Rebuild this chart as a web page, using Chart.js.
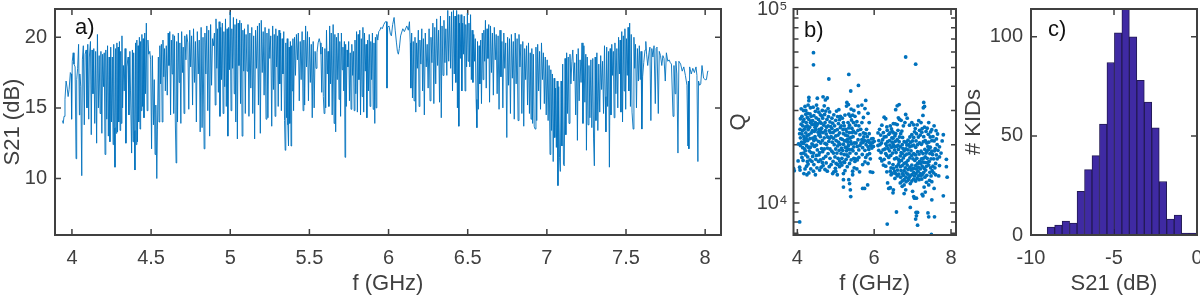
<!DOCTYPE html>
<html>
<head>
<meta charset="utf-8">
<style>
  html, body { margin: 0; background: #fff; overflow: hidden; }
  canvas { position: absolute; top: 0; }
</style>
<script src="https://cdn.jsdelivr.net/npm/chart.js@4/dist/chart.umd.min.js"></script>
</head>
<body>
<canvas id="panel_a" width="730" height="297" style="left:0"></canvas>
<canvas id="panel_b" width="240" height="297" style="left:720px"></canvas>
<canvas id="panel_c" width="240" height="297" style="left:960px"></canvas>
<script>
// panel a, S21 trace, [f GHz, dB], one list per band
const s21_40 = [[3.94,14.1],[3.945,13.9],[3.95,14.4],[3.956,15.6],[3.963,16.9],[3.97,16.4],[3.976,15.8],[3.982,16.3],[3.99,17.5],[3.995,17.4],[3.998,14.2],[4.002,18.3],[4.008,18.9],[4.013,18.1],[4.02,17.9],[4.026,11.4],[4.03,17.0],[4.036,17.8],[4.042,19.5],[4.047,14.5],[4.05,17.4],[4.056,16.5],[4.062,10.2],[4.066,18.4],[4.072,19.4],[4.078,13.8],[4.083,18.8],[4.09,19.1],[4.095,15.0],[4.1,19.5],[4.106,14.2],[4.11,18.6],[4.117,19.7],[4.122,13.1],[4.127,19.1],[4.133,16.0],[4.138,19.2],[4.144,13.9],[4.15,19.0],[4.156,12.5],[4.161,20.2],[4.167,15.0],[4.172,18.7],[4.178,14.6],[4.183,19.0],[4.189,13.2],[4.194,18.8],[4.2,16.5],[4.204,18.9],[4.209,11.7],[4.214,19.1],[4.22,14.2],[4.225,19.4],[4.23,13.0],[4.235,18.6],[4.24,12.6],[4.245,19.3],[4.25,14.0],[4.255,18.6],[4.26,12.4],[4.264,19.5],[4.268,13.6],[4.272,10.8],[4.276,19.2],[4.28,13.2],[4.284,19.6],[4.288,13.3],[4.292,19.3],[4.296,14.0],[4.3,19.7],[4.304,13.4],[4.308,19.0],[4.312,13.9],[4.316,20.1],[4.32,15.0],[4.325,18.0],[4.33,16.2],[4.336,19.2],[4.341,12.5],[4.347,17.9],[4.355,18.6],[4.36,14.5],[4.366,19.0],[4.37,16.2],[4.377,11.8],[4.382,19.1],[4.386,12.6],[4.39,18.9],[4.394,13.4],[4.398,10.6],[4.402,19.6],[4.406,12.4],[4.41,19.8],[4.414,12.6],[4.418,19.4],[4.422,14.0],[4.426,20.0],[4.43,13.5],[4.434,19.7],[4.438,14.8],[4.442,20.2],[4.446,15.1],[4.45,19.9],[4.455,14.3],[4.46,20.3],[4.465,16.0],[4.47,21.0],[4.475,14.8],[4.48,19.8],[4.485,18.8],[4.492,19.0]];
const s21_45 = [[4.497,18.4],[4.503,12.1],[4.508,18.7],[4.515,13.8],[4.52,17.0],[4.525,11.7],[4.53,15.2],[4.536,10.0],[4.54,13.5],[4.546,18.6],[4.55,14.0],[4.555,19.4],[4.56,16.7],[4.565,19.5],[4.57,14.0],[4.575,19.8],[4.58,17.2],[4.585,19.2],[4.59,16.2],[4.596,19.4],[4.602,15.9],[4.608,20.3],[4.613,18.0],[4.618,20.4],[4.623,14.5],[4.628,19.8],[4.633,17.4],[4.638,20.2],[4.643,14.6],[4.648,20.1],[4.653,14.0],[4.658,11.1],[4.662,19.7],[4.667,14.0],[4.672,20.3],[4.677,16.8],[4.682,19.6],[4.688,13.9],[4.693,20.4],[4.698,17.5],[4.703,19.3],[4.708,14.6],[4.713,20.1],[4.72,18.4],[4.725,20.2],[4.732,19.6],[4.738,14.9],[4.744,20.5],[4.75,17.9],[4.756,20.1],[4.762,15.2],[4.768,20.6],[4.774,16.8],[4.78,19.7],[4.786,14.0],[4.792,20.4],[4.798,17.4],[4.804,19.8],[4.81,13.3],[4.816,20.7],[4.822,13.6],[4.828,20.0],[4.835,12.1],[4.84,20.3],[4.846,17.4],[4.852,20.8],[4.858,14.8],[4.864,20.5],[4.87,13.0],[4.876,20.9],[4.882,16.6],[4.888,19.9],[4.894,19.4],[4.9,20.3],[4.905,15.2],[4.91,21.3],[4.915,17.8],[4.92,20.6],[4.925,16.1],[4.93,21.1],[4.935,14.4],[4.94,20.7],[4.945,17.0],[4.95,21.0],[4.955,14.6],[4.96,20.4],[4.965,16.5],[4.97,21.3],[4.975,15.1],[4.98,20.6],[4.985,13.0],[4.99,20.7],[4.995,17.7],[5.0,21.8],[5.005,14.8]];
const s21_50 = [[5.01,20.6],[5.015,17.8],[5.02,21.4],[5.025,16.0],[5.03,20.9],[5.035,14.0],[5.04,21.3],[5.045,12.8],[5.05,21.0],[5.055,18.0],[5.06,21.2],[5.065,15.3],[5.07,21.0],[5.075,13.0],[5.08,20.5],[5.085,17.6],[5.09,20.6],[5.095,14.6],[5.1,20.2],[5.106,17.6],[5.112,20.9],[5.118,14.4],[5.124,20.3],[5.13,16.4],[5.136,20.7],[5.142,14.6],[5.148,20.1],[5.154,12.8],[5.16,20.5],[5.166,17.8],[5.172,20.8],[5.178,15.2],[5.184,21.0],[5.19,13.2],[5.196,21.2],[5.202,17.5],[5.208,20.4],[5.214,15.9],[5.22,20.7],[5.226,14.2],[5.232,20.3],[5.238,14.3],[5.244,20.6],[5.25,18.5],[5.256,20.1],[5.262,13.7],[5.268,20.8],[5.273,16.3],[5.278,20.2],[5.283,14.4],[5.288,20.6],[5.293,17.9],[5.298,20.1],[5.303,15.1],[5.308,20.5],[5.313,16.7],[5.318,20.3],[5.323,14.8],[5.328,19.9],[5.333,17.4],[5.338,20.4],[5.343,14.1],[5.347,12.0],[5.351,19.6],[5.356,14.3],[5.36,19.9],[5.364,13.8],[5.368,12.3],[5.372,19.3],[5.376,13.9],[5.38,19.7],[5.384,12.3],[5.388,19.4],[5.392,16.2],[5.396,19.9],[5.4,14.8],[5.406,20.0],[5.412,17.3],[5.418,20.2],[5.424,18.4],[5.43,20.3],[5.436,15.5],[5.442,19.7],[5.448,17.0],[5.454,20.4],[5.46,14.8],[5.465,19.8],[5.47,15.2],[5.476,20.8],[5.482,17.9],[5.488,20.4],[5.494,15.5],[5.5,20.0],[5.506,16.8]];
const s21_55 = [[5.512,19.5],[5.518,14.3],[5.524,19.7],[5.53,15.0],[5.536,19.0],[5.542,17.8],[5.548,18.9],[5.555,19.6],[5.562,19.9],[5.568,19.6],[5.573,18.8],[5.578,16.1],[5.583,19.3],[5.588,15.8],[5.593,14.6],[5.598,19.2],[5.603,15.0],[5.608,20.5],[5.613,17.4],[5.618,19.0],[5.623,15.1],[5.628,20.8],[5.633,16.7],[5.638,20.3],[5.644,14.5],[5.65,20.9],[5.656,13.9],[5.661,20.2],[5.666,13.3],[5.671,20.0],[5.676,17.0],[5.682,20.3],[5.687,15.6],[5.692,19.7],[5.697,14.4],[5.702,20.3],[5.707,17.7],[5.712,19.3],[5.717,16.2],[5.721,19.7],[5.725,11.5],[5.729,19.5],[5.733,15.1],[5.738,19.1],[5.743,17.9],[5.748,19.7],[5.753,15.5],[5.758,18.9],[5.763,14.9],[5.768,19.5],[5.773,17.3],[5.778,19.0],[5.783,14.8],[5.788,19.8],[5.793,16.0],[5.798,20.4],[5.803,14.7],[5.808,20.2],[5.813,17.0],[5.818,20.5],[5.823,14.5],[5.828,19.9],[5.833,15.8],[5.838,20.7],[5.843,14.7],[5.848,20.3],[5.853,17.6],[5.858,19.5],[5.863,14.3],[5.868,19.8],[5.873,16.2],[5.878,20.2],[5.883,15.1],[5.888,19.7],[5.893,17.0],[5.898,20.3],[5.903,14.9],[5.908,19.6],[5.913,13.9],[5.917,20.0],[5.921,15.0],[5.926,20.2],[5.932,19.8],[5.938,20.4],[5.945,20.5],[5.952,20.7],[5.96,20.6],[5.97,20.9],[5.98,21.1],[5.987,21.1],[5.99,16.4],[5.994,20.7],[6.003,20.8],[6.012,20.2],[6.018,20.1],[6.026,20.9],[6.035,21.4],[6.042,20.5],[6.05,19.6],[6.056,19.0],[6.062,18.8],[6.068,19.2],[6.076,20.1],[6.09,20.6],[6.1,20.4],[6.115,20.8],[6.125,20.5],[6.132,21.1]];
const s21_60 = [[6.137,19.6],[6.141,16.4],[6.146,20.3],[6.151,15.7],[6.156,19.7],[6.161,15.5],[6.167,20.0],[6.172,14.7],[6.177,19.6],[6.182,17.8],[6.188,20.5],[6.193,15.1],[6.198,19.8],[6.204,18.1],[6.21,20.6],[6.215,16.2],[6.22,19.9],[6.226,14.5],[6.232,20.3],[6.238,17.9],[6.244,19.5],[6.25,16.4],[6.256,20.6],[6.262,15.5],[6.268,20.0],[6.274,18.2],[6.28,21.0],[6.286,15.3],[6.292,20.7],[6.298,16.7],[6.304,21.3],[6.31,18.0],[6.316,20.5],[6.322,15.4],[6.328,21.5],[6.333,14.3],[6.338,20.8],[6.344,17.3],[6.35,21.2],[6.356,18.2],[6.362,20.6],[6.368,17.3],[6.374,21.9],[6.38,18.3],[6.386,21.5],[6.392,17.8],[6.398,21.8],[6.404,16.2],[6.41,21.9],[6.415,17.4],[6.42,21.5],[6.425,16.8],[6.43,21.9],[6.435,15.0],[6.44,21.6],[6.444,13.7],[6.448,21.0],[6.453,18.5],[6.458,21.6],[6.463,16.2],[6.468,21.0],[6.473,18.8],[6.478,21.5],[6.483,16.2],[6.488,20.9],[6.493,17.9],[6.498,21.7],[6.503,18.3],[6.508,21.0],[6.513,17.9],[6.518,21.6],[6.523,17.0],[6.528,20.5],[6.533,16.8],[6.538,20.2],[6.543,18.3],[6.548,19.9],[6.553,15.6],[6.558,13.6],[6.562,19.7],[6.567,14.9],[6.572,19.4],[6.577,16.7],[6.582,19.8],[6.587,15.3],[6.592,20.3],[6.597,17.0],[6.602,20.5],[6.607,18.3],[6.612,21.2],[6.617,16.4],[6.622,20.6],[6.628,18.5],[6.633,20.9],[6.638,15.4]];
const s21_65 = [[6.644,20.8],[6.65,17.5],[6.656,20.3],[6.662,15.9],[6.668,20.7],[6.674,18.4],[6.68,20.2],[6.686,16.0],[6.692,20.1],[6.698,14.9],[6.704,20.5],[6.71,17.2],[6.716,19.7],[6.722,15.0],[6.728,20.3],[6.734,17.8],[6.74,19.6],[6.747,12.9],[6.752,20.0],[6.758,16.6],[6.764,19.9],[6.77,14.6],[6.776,20.2],[6.782,17.1],[6.788,19.7],[6.794,14.2],[6.8,20.3],[6.806,16.7],[6.812,19.9],[6.818,14.1],[6.824,20.2],[6.83,17.9],[6.836,19.5],[6.842,14.6],[6.848,19.7],[6.854,13.7],[6.86,19.2],[6.866,17.0],[6.872,19.4],[6.878,15.2],[6.884,19.6],[6.89,14.6],[6.895,18.9],[6.9,14.2],[6.905,19.2],[6.91,13.9],[6.915,18.8],[6.92,13.7],[6.926,13.5],[6.931,19.3],[6.936,14.1],[6.942,19.5],[6.948,16.2],[6.954,19.0],[6.96,14.9],[6.966,19.6],[6.972,17.0],[6.978,18.9],[6.984,15.3],[6.99,18.6],[6.996,14.5],[7.002,18.4],[7.008,14.1],[7.014,18.0],[7.02,11.7],[7.025,17.7],[7.03,13.4],[7.035,17.4],[7.04,11.2],[7.046,17.1],[7.05,12.9],[7.055,16.4],[7.06,12.2],[7.065,16.9],[7.07,9.5],[7.075,16.5],[7.08,11.5],[7.085,10.5],[7.09,16.9],[7.095,12.3],[7.1,18.1],[7.105,11.0],[7.11,10.9],[7.115,18.5],[7.12,13.1],[7.125,18.9],[7.13,14.6],[7.135,18.6],[7.14,13.9],[7.146,18.8],[7.152,16.7],[7.158,18.3]];
const s21_70 = [[7.164,19.1],[7.17,16.9],[7.176,18.2],[7.182,14.5],[7.188,18.8],[7.193,12.7],[7.198,19.2],[7.204,15.5],[7.21,18.4],[7.216,16.8],[7.222,19.6],[7.228,13.9],[7.234,19.4],[7.24,15.4],[7.246,18.8],[7.25,12.0],[7.255,18.6],[7.26,13.8],[7.266,18.0],[7.272,14.3],[7.278,18.4],[7.284,13.6],[7.29,18.5],[7.295,12.8],[7.3,10.9],[7.305,18.6],[7.31,14.1],[7.316,18.9],[7.322,13.4],[7.328,18.1],[7.334,14.7],[7.34,18.7],[7.346,16.3],[7.352,18.3],[7.358,14.6],[7.364,19.4],[7.369,15.8],[7.373,13.3],[7.378,19.3],[7.384,15.1],[7.39,19.0],[7.395,10.8],[7.4,19.2],[7.405,14.5],[7.41,19.5],[7.415,17.3],[7.42,19.0],[7.425,14.3],[7.43,19.6],[7.436,16.0],[7.442,19.2],[7.448,15.0],[7.453,20.0],[7.458,17.4],[7.463,19.8],[7.468,14.7],[7.473,20.4],[7.478,14.0],[7.483,20.1],[7.488,16.2],[7.493,20.6],[7.498,14.9],[7.503,19.9],[7.508,17.3],[7.513,20.7],[7.518,16.2],[7.523,21.0],[7.528,15.1],[7.533,20.2],[7.538,14.7],[7.545,13.5],[7.55,20.0],[7.555,17.8],[7.56,19.5],[7.566,15.0],[7.572,19.2],[7.578,16.9],[7.584,19.4],[7.59,17.0],[7.595,19.0],[7.6,13.5],[7.605,17.2],[7.612,18.2],[7.62,19.1],[7.625,19.7],[7.63,18.8],[7.637,18.0],[7.645,18.9],[7.651,19.3],[7.657,14.1],[7.663,19.2],[7.67,18.6],[7.677,19.4],[7.685,15.3],[7.69,19.2],[7.696,19.3],[7.704,14.6],[7.71,19.0],[7.718,18.7],[7.726,18.0],[7.733,18.7],[7.74,18.5],[7.748,16.9],[7.755,18.9],[7.764,18.3],[7.772,18.4],[7.78,18.2]];
const s21_78 = [[7.787,18.1],[7.797,14.4],[7.803,18.0],[7.81,16.0],[7.815,18.3],[7.821,17.4],[7.828,11.8],[7.834,18.3],[7.845,18.1],[7.855,17.6],[7.865,17.9],[7.875,17.3],[7.885,16.6],[7.891,12.3],[7.894,16.9],[7.897,12.1],[7.902,17.9],[7.912,17.4],[7.922,17.8],[7.932,17.5],[7.942,17.9],[7.948,17.3],[7.954,11.2],[7.958,16.9],[7.965,16.6],[7.972,16.7],[7.98,18.0],[7.99,17.1],[8.0,17.0],[8.008,17.0],[8.016,17.6],[8.02,17.6]];
const xTicksA = [4, 4.5, 5, 5.5, 6, 6.5, 7, 7.5, 8];
const yTicksA = [10, 15, 20];

// panel b, resonators, [f GHz, Q in thousands]
const qLowBand = [[4.42,59.6],[4.42,51.6],[4.82,43.6],[5.34,46],[5.39,37.8],[5.59,40.4],[4.06,8.0],[3.9,15.1],[3.92,14.7],[4.06,15.3],[4.07,14.8],[4.02,16.5],[4.03,20.2],[4.08,21.7],[4.06,22.8],[4.07,24],[4.1,25.5],[4.08,27.2],[4.12,28],[4.16,30],[4.1,30.6],[4.22,30],[4.2,31.5],[4.27,29],[4.3,35],[4.3,33.7],[4.28,32],[4.34,31],[4.36,28],[4.22,28.7],[4.17,27],[4.14,25],[4.18,24],[4.23,26],[4.26,25],[4.3,27],[4.32,24.6],[4.12,22.7],[4.17,22],[4.2,20.8],[4.11,20.6],[4.14,19.3],[4.19,19],[4.24,19.8],[4.27,21],[4.3,22.5],[4.33,21.5],[4.36,23],[4.38,25.4],[4.1,18],[4.12,17.2],[4.16,18.1],[4.22,17.7],[4.27,17.3],[4.31,18.6],[4.34,19.4],[4.38,20.2],[4.4,21.6],[4.44,23.4],[4.47,26],[4.43,28.2],[4.47,29.7],[4.41,31.2],[4.5,32],[4.52,34.7],[4.53,30.6],[4.6,28.5],[4.55,27],[4.5,25],[4.57,24],[4.62,25.8],[4.66,27.4],[4.65,30],[4.7,31.7],[4.67,35.3],[4.73,34],[4.78,34.8],[4.74,29.8],[4.8,30.7],[4.84,29.5],[4.77,27],[4.72,26],[4.8,25],[4.85,26.2],[4.9,27.4],[4.83,23.6],[4.75,22.7],[4.7,21.7],[4.65,21],[4.6,22],[4.55,20.8],[4.48,21.3],[4.45,19.6],[4.42,18.1],[4.52,18.8],[4.58,18.2],[4.63,19.1],[4.7,19],[4.76,20.1],[4.82,20.8],[4.88,22],[4.93,23.1],[4.97,25],[5.0,26.7],[4.95,28.5],[5.02,29.8],[5.08,30.3],[5.12,28],[5.07,25.7],[5.04,23.9],[5.1,23],[5.14,25],[5.2,26],[5.24,28.4],[5.28,31.6],[5.33,32.2],[5.29,33],[5.4,30.5],[5.38,28],[5.32,26],[5.26,24],[5.2,22.8],[5.13,21.5],[5.07,20.6],[5.01,21],[4.96,20],[4.9,18.5],[4.85,19],[4.8,18],[4.74,17.4],[4.68,17],[4.6,16.7],[4.55,16.4],[4.48,16.8],[4.43,15.8],[4.38,16.4],[4.33,16.7],[4.28,15.9],[4.24,15.5],[4.2,15],[4.17,14.2],[4.25,14],[4.3,14.3],[4.35,15],[4.42,14.6],[4.47,14],[4.51,15.2],[4.58,14.8],[4.62,15.3],[4.67,15.6],[4.72,14.9],[4.78,14.6],[4.83,15.4],[4.88,15.8],[4.93,16.4],[4.98,17.3],[5.03,18.1],[5.09,18.7],[5.15,19.2],[5.2,20.1],[5.26,21],[5.31,22.2],[5.36,23.1],[5.42,24.3],[5.46,26],[5.5,28],[5.47,30],[5.58,31.6],[5.6,29.2],[5.55,26.3],[5.6,25],[5.52,23],[5.45,22],[5.39,20.7],[5.33,19.8],[5.28,18.6],[5.22,17.8],[5.16,17],[5.1,16.5],[5.05,15.8],[4.99,15.1],[4.95,14.5],[4.92,14.2],[5.0,14.6],[5.04,14],[5.1,15.4],[5.16,15.7],[5.21,16.3],[5.27,16.8],[5.32,17.4],[5.37,18.1],[5.42,18.9],[5.47,19.5],[5.53,20.4],[5.58,21.2],[5.63,22.5],[5.65,24],[5.68,26],[5.72,27.6],[5.76,30.7],[5.68,32],[5.78,33.8],[5.84,29],[5.87,26],[5.8,24],[5.72,23],[5.75,21],[5.79,20],[5.82,22],[5.85,21],[5.88,20.5],[5.9,19.7],[5.93,21.4],[5.96,20.5],[5.98,19.6],[6.0,20.8],[5.88,18],[5.82,17.7],[5.76,18.7],[5.7,19.3],[5.66,20.4],[5.6,18.8],[5.53,18],[5.47,17],[5.4,16.7],[5.36,16],[5.3,15.4],[5.24,14.7],[5.2,14.2],[5.2,13.2],[5.2,12.1],[5.34,13.2],[5.36,12.6],[5.38,11.7],[5.39,10.8],[5.7,11.9],[5.75,11.9],[5.83,12.4],[5.9,14.5],[5.96,14.4],[5.62,14.5],[5.55,15],[5.48,15.2],[5.44,14.6],[5.44,14],[5.7,15.8],[5.76,16.3],[5.84,16],[5.9,16.9],[5.56,16.7],[5.5,16.4],[5.14,18],[5.18,18.7],[5.25,19.4],[5.32,20.6],[5.4,21.8],[5.46,23.5],[5.36,25.2],[5.25,22.4],[5.19,23.9],[5.12,24.5],[5.06,22.4],[5.0,22.2],[4.94,21.6],[4.9,24.2],[4.86,23.1],[4.79,21.9],[4.73,23.6],[4.67,23.1],[4.63,24.3],[4.59,22.8],[4.54,23.2],[4.48,23.9],[4.44,25.4],[4.4,26.6],[4.34,26],[4.28,23.9],[4.22,23],[4.18,21.3],[4.13,23.6],[4.25,22.2],[4.08,19.8],[4.16,20.3]];
const qHighBand = [[6.82,56.6],[7.08,52],[6.58,9.0],[6.34,7.8],[6.94,9.5],[7.13,8.95],[7.09,8.95],[7.08,8.27],[7.13,7.7],[7.1,8.6],[7.4,8.9],[7.42,8.5],[7.57,8.5],[7.49,6.9],[7.5,10.4],[7.8,10.9],[7.9,13.6],[7.88,16.8],[7.88,15.4],[7.8,22.5],[7.77,20.9],[6.12,21],[6.1,23],[6.14,24],[6.2,25.2],[6.26,27.7],[6.3,27.2],[6.34,23.7],[6.38,22.6],[6.42,25],[6.45,24.1],[6.5,25.7],[6.55,25.6],[6.6,31.7],[6.56,30.3],[6.65,32.2],[6.66,27],[6.62,23.7],[6.56,22.8],[6.51,23],[6.46,21.7],[6.4,21],[6.35,20.7],[6.3,20.2],[6.26,21.9],[6.22,21.2],[6.19,20.4],[6.15,20],[6.1,19.8],[6.12,18.7],[6.18,18.2],[6.23,18.8],[6.3,18],[6.36,19.1],[6.4,18.6],[6.45,19.4],[6.5,20],[6.55,20.8],[6.6,21.2],[6.66,21.9],[6.72,23.5],[6.76,25],[6.8,26],[6.86,27.4],[6.82,28.6],[6.92,25.2],[6.98,26],[7.03,25.3],[7.07,24.2],[7.12,25.3],[7.16,26.6],[7.22,26],[7.27,28.3],[7.31,31.5],[7.28,31],[7.29,33],[7.42,26],[7.5,23.9],[7.56,25],[7.61,23.6],[7.65,22.7],[7.62,21.4],[7.56,20.9],[7.5,21],[7.46,21.9],[7.41,22.6],[7.35,23.4],[7.29,22],[7.24,23.2],[7.2,22.4],[7.15,21.9],[7.09,20.9],[7.03,21.8],[6.98,22.5],[6.93,21.9],[6.88,21.1],[6.83,20.6],[6.78,20.7],[6.73,20],[6.68,19.5],[6.63,18.9],[6.58,19.6],[6.53,18.8],[6.48,18.1],[6.43,17.6],[6.38,17.2],[6.33,17.6],[6.26,16.8],[6.2,16.5],[6.16,17],[6.24,15.7],[6.3,15.5],[6.33,14.5],[6.39,16.1],[6.44,15.2],[6.49,15.8],[6.53,16.9],[6.58,17.1],[6.63,16.8],[6.68,17.5],[6.73,18],[6.78,18.6],[6.83,19],[6.88,18.8],[6.93,19.5],[6.98,19.7],[7.03,19.9],[7.08,19.4],[7.13,20],[7.18,20.4],[7.23,20.1],[7.28,20.7],[7.33,21],[7.37,20.4],[7.42,20.6],[7.46,19.4],[7.42,18.9],[7.37,18.5],[7.32,18.9],[7.27,18],[7.22,18.5],[7.17,17.9],[7.13,18.4],[7.08,17.7],[7.03,18],[6.98,17.6],[6.93,17.1],[6.88,16.6],[6.83,16.2],[6.78,16],[6.73,15.6],[6.68,15.4],[6.63,15.8],[6.58,15.4],[6.53,14.6],[6.47,14.2],[6.44,14],[6.54,13.4],[6.6,13.8],[6.64,14.1],[6.69,13.6],[6.74,14.2],[6.78,14.7],[6.83,14.3],[6.88,14.9],[6.93,15.3],[6.98,15.7],[7.03,15.1],[7.08,15.6],[7.13,16],[7.18,16.4],[7.23,16.9],[7.28,17],[7.33,17.3],[7.38,17],[7.43,16.4],[7.48,16.9],[7.52,17.8],[7.57,18.6],[7.62,17.7],[7.66,18.7],[7.7,19.5],[7.74,18.1],[7.6,16],[7.53,15.5],[7.47,15.2],[7.42,15.7],[7.36,15.5],[7.3,15.1],[7.25,15.5],[7.2,15],[7.14,14.6],[7.09,14.2],[7.03,14.4],[6.98,14],[6.93,13.7],[6.88,14.1],[6.83,13.6],[6.78,13.2],[6.73,13],[6.68,12.7],[6.73,12.2],[6.78,12.4],[6.83,12.9],[6.88,13.1],[6.94,12.6],[6.98,13],[7.03,13.3],[7.08,13],[7.12,13.4],[7.17,13.2],[7.22,13.8],[7.26,14.1],[7.32,13.6],[7.37,13.9],[7.44,13.1],[7.48,13.8],[7.55,14.3],[7.6,14],[7.68,13.8],[7.7,15.6],[6.35,12.7],[6.38,11.9],[6.49,11.3],[6.5,11.7],[6.42,12],[6.82,11.7],[6.78,11.2],[7.05,10.6],[7.1,10.6],[7.03,10.8],[7.0,11.5],[7.25,11.1],[7.3,12.1],[7.27,10.9],[7.42,12.4],[7.36,12.8],[7.5,12.9],[7.56,11.9],[7.33,11.4]];
// the dense middle of both clouds
const qDenseLow = [[4.15,26.3],[4.21,24.7],[4.26,27.6],[4.29,24.2],[4.33,28.8],[4.37,26.4],[4.39,23.6],[4.43,21],[4.46,24.6],[4.49,27.5],[4.53,25.6],[4.56,29.4],[4.59,26.2],[4.61,23.4],[4.64,28.1],[4.69,25.2],[4.71,28.6],[4.76,24.6],[4.81,27.9],[4.87,24.8],[4.91,20.6],[4.84,21.6],[4.78,19.2],[4.72,20.3],[4.66,18.4],[4.61,20.4],[4.56,22.4],[4.5,19.9],[4.46,22],[4.41,19.9],[4.36,18.2],[4.29,19.4],[4.23,21.5],[4.21,18.6],[4.15,16.6],[4.26,16.4],[4.4,17.4],[4.5,17.6],[4.56,17.7],[4.65,16.2],[4.75,16.1],[4.85,17],[4.94,18.1],[5.0,19],[5.05,19.7],[5.11,20.1],[5.17,21.3],[5.23,20.9],[5.29,23.3],[5.34,24.4],[5.41,26.8],[5.43,23.1],[5.37,21.6],[5.3,21.2],[5.22,25],[5.17,27.4],[5.1,26.9],[5.05,27.9],[4.98,23.6],[4.92,25.8],[5.34,28.7],[5.44,28.4],[5.52,25.2],[5.58,23.7],[5.63,19.8],[5.68,21.2],[5.71,20.5],[5.73,21.9],[5.77,22.8],[5.81,20.8],[5.84,19.5],[5.87,22.8],[5.92,20.3],[5.94,19.2],[5.97,21.5],[5.86,18.9],[5.78,17.2],[5.69,17.8],[5.6,17.2],[5.52,16.9],[5.45,18.6],[5.41,20.2],[5.35,18.9],[5.29,17.7],[5.23,16.2],[5.13,16.1],[5.06,17],[5.01,16],[5.3,19.1],[5.48,20.4],[5.56,19.6]];
const qDenseHigh = [[6.17,22.4],[6.24,23.1],[6.31,22],[6.33,24.7],[6.41,23],[6.47,23.4],[6.49,21.6],[6.54,22.2],[6.6,25.4],[6.63,27.5],[6.7,26.7],[6.74,21.8],[6.69,22.8],[6.28,19],[6.33,19.7],[6.41,19.9],[6.47,20.6],[6.52,19.6],[6.57,18.2],[6.62,19.8],[6.65,20.7],[6.7,18.2],[6.75,19.1],[6.8,17.6],[6.85,17.9],[6.91,18],[6.96,18.6],[7.01,16.9],[7.06,16.6],[7.11,17],[7.15,15.3],[7.21,16],[7.26,16.3],[7.31,16.2],[7.35,18.1],[7.4,19.6],[7.45,18],[7.5,18.5],[7.55,16.9],[7.59,19.1],[7.64,20],[7.53,22],[7.47,23.3],[7.38,24.3],[7.31,24.6],[7.25,24.2],[7.18,23.7],[7.1,22.8],[7.05,23.3],[7.0,20.9],[6.95,20.6],[6.9,20],[6.85,19.9],[6.8,18.9],[6.76,17.1],[6.71,16.6],[6.65,16.3],[6.61,14.8],[6.56,14.2],[6.5,15.1],[6.42,14.6],[6.7,14.7],[6.76,13.9],[6.81,15.2],[6.86,15.7],[6.9,13.4],[6.96,14.8],[7.0,15],[7.05,13.8],[7.1,15],[7.15,13.8],[7.2,14.2],[7.24,13.3],[7.29,14.4],[7.34,14.8],[7.39,16.2],[7.45,14.4],[7.51,14.7],[7.58,15.2],[7.64,16.9],[7.7,17.3]];
const xTicksB = [4, 6, 8];
const yMajorB = [10000, 100000];
const yMinorB = [7000, 8000, 9000, 20000, 30000, 40000, 50000, 60000, 70000, 80000, 90000];

// panel c, histogram
const binCenters = [-8.8, -8.35, -7.9, -7.45, -7.0, -6.55, -6.1, -5.65, -5.2, -4.75, -4.3, -3.85, -3.4, -2.95, -2.5, -2.05, -1.6, -1.15, -0.7, -0.25];
const binCounts = [4, 5, 7, 6, 22, 33, 40, 56, 87, 102, 118, 100, 78, 67, 54, 27, 8, 10, 1, 1];
const xTicksC = [-10, -5, 0];
const yTicksC = [0, 50, 100];

const INK = "#404040";
const BLUE = "#0072BD";
const FONT = "'Liberation Sans', Arial, sans-serif";

// MATLAB look: inward ticks on all four sides, box on top of the marks
const boxTicks = {
  id: "boxTicks",
  beforeDatasetsDraw(chart, args, opts) {
    const a = chart.chartArea, ctx = chart.ctx;
    ctx.save();
    ctx.strokeStyle = INK;
    ctx.lineWidth = 1.5;
    ctx.beginPath();
    chart.scales.x.ticks.forEach((t) => {
      const p = chart.scales.x.getPixelForValue(t.value);
      ctx.moveTo(p, a.bottom); ctx.lineTo(p, a.bottom - opts.len);
      ctx.moveTo(p, a.top); ctx.lineTo(p, a.top + opts.len);
    });
    chart.scales.y.ticks.forEach((t) => {
      const p = chart.scales.y.getPixelForValue(t.value);
      ctx.moveTo(a.left, p); ctx.lineTo(a.left + opts.len, p);
      ctx.moveTo(a.right, p); ctx.lineTo(a.right - opts.len, p);
    });
    (opts.minor || []).forEach((v) => {
      const p = chart.scales.y.getPixelForValue(v);
      ctx.moveTo(a.left, p); ctx.lineTo(a.left + opts.len - 1, p);
      ctx.moveTo(a.right, p); ctx.lineTo(a.right - opts.len + 1, p);
    });
    ctx.stroke();
    ctx.restore();
  },
  afterDatasetsDraw(chart, args, opts) {
    const a = chart.chartArea, ctx = chart.ctx;
    ctx.save();
    ctx.strokeStyle = INK;
    ctx.lineWidth = 2;
    ctx.strokeRect(a.left, a.top, a.right - a.left, a.bottom - a.top);
    ctx.fillStyle = "#111";
    ctx.font = "22px " + FONT;
    ctx.fillText(opts.tag, opts.tagX, opts.tagY);
    ctx.restore();
  }
};

function fixBox(s, isX, fit) {
  if (isX) s.height = fit; else s.width = fit;
  // keep the plot box where it is, labels may hang over its corners
  s.paddingLeft = 0; s.paddingRight = 0; s.paddingTop = 0; s.paddingBottom = 0;
}

function axisOpts(min, max, ticksList, titleText, isX, fit, titlePad, extra) {
  return Object.assign({
    type: "linear",
    min: min,
    max: max,
    offset: false,
    border: { display: false },
    grid: { display: false, drawTicks: false },
    afterBuildTicks: (s) => { s.ticks = ticksList.map((v) => ({ value: v })); },
    afterFit: (s) => fixBox(s, isX, fit),
    ticks: {
      color: INK,
      font: { family: FONT, size: 20 },
      padding: isX ? 11 : 8,
      autoSkip: false,
      maxRotation: 0,
      callback: (v) => String(v)
    },
    title: {
      display: true,
      text: titleText,
      color: INK,
      font: { family: FONT, size: 22 },
      padding: isX ? 0 : { top: titlePad, bottom: 0 }
    }
  }, extra || {});
}

function baseOpts(pad, x, y, box) {
  return {
    responsive: false,
    animation: false,
    layout: { padding: pad },
    plugins: { legend: { display: false }, tooltip: { enabled: false }, boxTicks: box },
    scales: { x: x, y: y }
  };
}

const traceData = [].concat(s21_40, s21_45, s21_50, s21_55, s21_60, s21_65, s21_70, s21_78);

new Chart(document.getElementById("panel_a"), {
  type: "line",
  data: { datasets: [{ data: traceData, borderColor: BLUE, borderWidth: 0.9, pointRadius: 0, tension: 0, fill: false }] },
  options: baseOpts(
    { top: 9, right: 9, left: 0, bottom: 0 },
    axisOpts(3.893, 8.1, xTicksA, "f (GHz)", true, 62, 0),
    axisOpts(6, 22, yTicksA, "S21 (dB)", false, 55, 0),
    { len: 6, tag: "a)", tagX: 75, tagY: 34 }
  ),
  plugins: [boxTicks]
});

const qToPoints = (list) => list.map((p) => [p[0], p[1] * 1000]);
const qAll = [].concat(qToPoints(qLowBand), qToPoints(qHighBand), qToPoints(qDenseLow), qToPoints(qDenseHigh));

new Chart(document.getElementById("panel_b"), {
  type: "scatter",
  data: { datasets: [{ data: qAll, backgroundColor: BLUE, borderWidth: 0, pointRadius: 1.9 }] },
  options: baseOpts(
    { top: 9, right: 1, left: 0, bottom: 0 },
    axisOpts(3.9, 8.13, xTicksB, "f (GHz)", true, 62, 0),
    axisOpts(6850, 100000, yMajorB, "Q", false, 73.5, 6, {
      type: "logarithmic",
      ticks: {
        color: INK,
        font: { family: FONT, size: 20 },
        padding: 6,
        autoSkip: false,
        maxRotation: 0,
        callback: (v) => (v === 10000 ? "10\u2074" : "10\u2075")
      }
    }),
    { len: 6, minor: yMinorB, tag: "b)", tagX: 84, tagY: 37 }
  ),
  plugins: [boxTicks]
});

new Chart(document.getElementById("panel_c"), {
  type: "bar",
  data: {
    datasets: [{
      data: binCenters.map((c, i) => ({ x: c, y: binCounts[i] })),
      backgroundColor: "#3f2aa3",
      borderColor: "#231a55",
      borderWidth: 1,
      barPercentage: 1,
      categoryPercentage: 1
    }]
  },
  options: baseOpts(
    { top: 9, right: 3, left: 0, bottom: 0 },
    axisOpts(-10, 0, xTicksC, "S21 (dB)", true, 62, 0),
    axisOpts(0, 114, yTicksC, "# KIDs", false, 71, 1),
    { len: 6, tag: "c)", tagX: 88, tagY: 36 }
  ),
  plugins: [boxTicks]
});
</script>
</body>
</html>
